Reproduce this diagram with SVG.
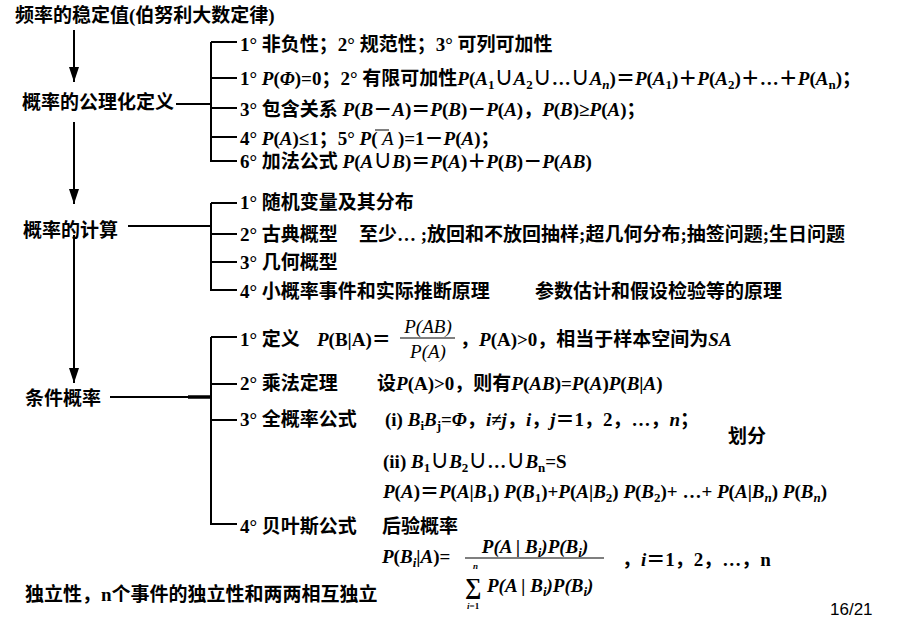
<svg xmlns="http://www.w3.org/2000/svg" width="906" height="628" viewBox="0 0 906 628">
<defs>
<style>
.t{font-family:"Liberation Serif","Noto Sans CJK SC",serif;font-size:19px;font-weight:bold;fill:#000}
.i{font-style:italic}
.r{font-weight:normal}
.s{font-size:13px}
.ln{stroke:#000;stroke-width:2;fill:none}
.pg{font-family:"Liberation Sans",Arial,sans-serif;font-size:17px;fill:#000}
</style>
<marker id="ah" viewBox="0 0 15 10" refX="15" refY="5" markerWidth="15" markerHeight="10" markerUnits="userSpaceOnUse" orient="auto">
<path d="M0,0 L15,5 L0,10 z" fill="#000"/>
</marker>
</defs>
<rect width="906" height="628" fill="#fff"/>

<g id="connectors">
<line class="ln" x1="74" y1="30" x2="74" y2="82" marker-end="url(#ah)"/>
<line class="ln" x1="74" y1="122" x2="74" y2="204" marker-end="url(#ah)"/>
<line class="ln" x1="74" y1="235" x2="74" y2="383" marker-end="url(#ah)"/>
<path class="ln" d="M176,104 H211 M211,42 V161 H237 M211,42 H237 M211,78 H237 M211,108 H237 M211,137 H237"/>
<path class="ln" d="M128,226 H211 M211,203 V290 H237 M211,203 H237 M211,234 H237 M211,262 H237"/>
<path class="ln" d="M110,397 H211 M211,337 V524 H237 M211,337 H237 M211,384 H237 M211,420 H237"/>
<line x1="188" y1="397" x2="211" y2="397" stroke="#000" stroke-width="3.5"/>
</g>

<g id="title"><text class="t" x="15" y="22">频率的稳定值(伯努利大数定律)</text></g>

<g id="axiom"><text class="t" x="22" y="109">概率的公理化定义</text></g>
<g id="axiom-1"><text class="t" x="240" y="51">1° 非负性；2° 规范性；3° 可列可加性</text></g>
<g id="axiom-2"><text class="t" x="240" y="85">1° <tspan class="i">P</tspan>(<tspan class="i">Φ</tspan>)=0；2° 有限可加性<tspan class="i">P</tspan>(<tspan class="i">A</tspan><tspan class="s" dy="4">1</tspan><tspan dy="-4">∪</tspan><tspan class="i">A</tspan><tspan class="s" dy="4">2</tspan><tspan dy="-4">∪…∪</tspan><tspan class="i">A</tspan><tspan class="s i" dy="4">n</tspan><tspan dy="-4">)＝</tspan><tspan class="i">P</tspan>(<tspan class="i">A</tspan><tspan class="s" dy="4">1</tspan><tspan dy="-4">)＋</tspan><tspan class="i">P</tspan>(<tspan class="i">A</tspan><tspan class="s" dy="4">2</tspan><tspan dy="-4">)＋…＋</tspan><tspan class="i">P</tspan>(<tspan class="i">A</tspan><tspan class="s" dy="4">n</tspan><tspan dy="-4">)；</tspan></text></g>
<g id="axiom-3"><text class="t" x="240" y="116">3° 包含关系 <tspan class="i">P</tspan>(<tspan class="i">B</tspan>－<tspan class="i">A</tspan>)＝<tspan class="i">P</tspan>(<tspan class="i">B</tspan>)－<tspan class="i">P</tspan>(<tspan class="i">A</tspan>)，<tspan class="i">P</tspan>(<tspan class="i">B</tspan>)≥<tspan class="i">P</tspan>(<tspan class="i">A</tspan>)；</text></g>
<g id="axiom-4"><text class="t" x="240" y="145">4° <tspan class="i">P</tspan>(<tspan class="i">A</tspan>)≤1；5° <tspan class="i">P</tspan>(<tspan class="i r"> A </tspan>)=1－<tspan class="i">P</tspan>(<tspan class="i">A</tspan>)；</text><line x1="375" y1="130" x2="389" y2="130" stroke="#000" stroke-width="1"/></g>
<g id="axiom-5"><text class="t" x="240" y="168">6° 加法公式 <tspan class="i">P</tspan>(<tspan class="i">A</tspan>∪<tspan class="i">B</tspan>)＝<tspan class="i">P</tspan>(<tspan class="i">A</tspan>)＋<tspan class="i">P</tspan>(<tspan class="i">B</tspan>)－<tspan class="i">P</tspan>(<tspan class="i">AB</tspan>)</text></g>

<g id="calc"><text class="t" x="23" y="237">概率的计算</text></g>
<g id="calc-1"><text class="t" x="240" y="209">1° 随机变量及其分布</text></g>
<g id="calc-2"><text class="t" x="240" y="241">2° 古典概型<tspan x="359">至少… ;放回和不放回抽样;超几何分布;抽签问题;生日问题</tspan></text></g>
<g id="calc-3"><text class="t" x="240" y="269">3° 几何概型</text></g>
<g id="calc-4"><text class="t" x="240" y="298">4° 小概率事件和实际推断原理<tspan x="535">参数估计和假设检验等的原理</tspan></text></g>

<g id="cond"><text class="t" x="25" y="405">条件概率</text></g>
<g id="cond-1">
<text class="t" x="240" y="346">1° 定义<tspan x="317" class="i">P</tspan>(B|A)＝</text>
<text class="t r i" x="428" y="333" text-anchor="middle">P(AB)</text>
<line x1="400" y1="338" x2="455" y2="338" stroke="#000" stroke-width="1"/>
<text class="t r i" x="428" y="358" text-anchor="middle">P(A)</text>
<text class="t" x="460" y="346">，<tspan class="i">P</tspan>(A)&gt;0，相当于样本空间为<tspan class="i">SA</tspan></text>
</g>
<g id="cond-2"><text class="t" x="240" y="390">2° 乘法定理<tspan x="377">设</tspan><tspan class="i">P</tspan>(A)&gt;0，则有<tspan class="i">P</tspan>(<tspan class="i">AB</tspan>)=<tspan class="i">P</tspan>(<tspan class="i">A</tspan>)<tspan class="i">P</tspan>(<tspan class="i">B</tspan>|<tspan class="i">A</tspan>)</text></g>
<g id="cond-3">
<text class="t" x="240" y="426">3° 全概率公式<tspan x="385">(i) </tspan><tspan class="i">B</tspan><tspan class="s" dy="4">i</tspan><tspan class="i" dy="-4">B</tspan><tspan class="s" dy="4">j</tspan><tspan dy="-4">=</tspan><tspan class="i">Φ</tspan>，<tspan class="i">i</tspan>≠<tspan class="i">j</tspan>，<tspan class="i">i</tspan>，<tspan class="i">j</tspan>＝1，2，…，<tspan class="i">n</tspan>；</text>
<text class="t" x="383" y="468">(ii) <tspan class="i">B</tspan><tspan class="s" dy="4">1</tspan><tspan dy="-4">∪</tspan><tspan class="i">B</tspan><tspan class="s" dy="4">2</tspan><tspan dy="-4">∪…∪</tspan><tspan class="i">B</tspan><tspan class="s" dy="4">n</tspan><tspan dy="-4">=S</tspan></text>
<text class="t" x="383" y="498"><tspan class="i">P</tspan>(<tspan class="i">A</tspan>)＝<tspan class="i">P</tspan>(<tspan class="i">A</tspan>|<tspan class="i">B</tspan><tspan class="s" dy="4">1</tspan><tspan dy="-4">) </tspan><tspan class="i">P</tspan>(<tspan class="i">B</tspan><tspan class="s" dy="4">1</tspan><tspan dy="-4">)+</tspan><tspan class="i">P</tspan>(<tspan class="i">A</tspan>|<tspan class="i">B</tspan><tspan class="s" dy="4">2</tspan><tspan dy="-4">) </tspan><tspan class="i">P</tspan>(<tspan class="i">B</tspan><tspan class="s" dy="4">2</tspan><tspan dy="-4">)+ …+ </tspan><tspan class="i">P</tspan>(<tspan class="i">A</tspan>|<tspan class="i">B</tspan><tspan class="s i" dy="4">n</tspan><tspan dy="-4">) </tspan><tspan class="i">P</tspan>(<tspan class="i">B</tspan><tspan class="s i" dy="4">n</tspan><tspan dy="-4">)</tspan></text>
</g>
<g id="partition"><text class="t" x="728" y="443">划分</text></g>
<g id="cond-4">
<text class="t" x="240" y="533">4° 贝叶斯公式<tspan x="382">后验概率</tspan></text>
<text class="t" x="382" y="563"><tspan class="i">P</tspan>(<tspan class="i">B</tspan><tspan class="s i" dy="4">i</tspan><tspan dy="-4">|</tspan><tspan class="i">A</tspan>)=</text>
<text class="t i" x="535" y="553" text-anchor="middle">P(A | B<tspan class="s" dy="4">i</tspan><tspan dy="-4">)P(B</tspan><tspan class="s" dy="4">i</tspan><tspan dy="-4">)</tspan></text>
<line x1="465" y1="558" x2="604" y2="558" stroke="#000" stroke-width="1.2"/>
<text class="t" x="465" y="594" style="font-size:23px">∑</text>
<text class="t i" x="473" y="569" style="font-size:9px">n</text>
<text class="t" x="467" y="609" style="font-size:9px"><tspan class="i">i</tspan>=1</text>
<text class="t i" x="487" y="592">P(A | B<tspan class="s" dy="4">i</tspan><tspan dy="-4">)P(B</tspan><tspan class="s" dy="4">i</tspan><tspan dy="-4">)</tspan></text>
<text class="t" x="622" y="566">，<tspan class="i">i</tspan>＝1，2，…，n</text>
</g>

<g id="independence"><text class="t" x="25" y="601">独立性，n个事件的独立性和两两相互独立</text></g>
<g id="page"><text class="pg" x="830" y="615">16/21</text></g>
</svg>
